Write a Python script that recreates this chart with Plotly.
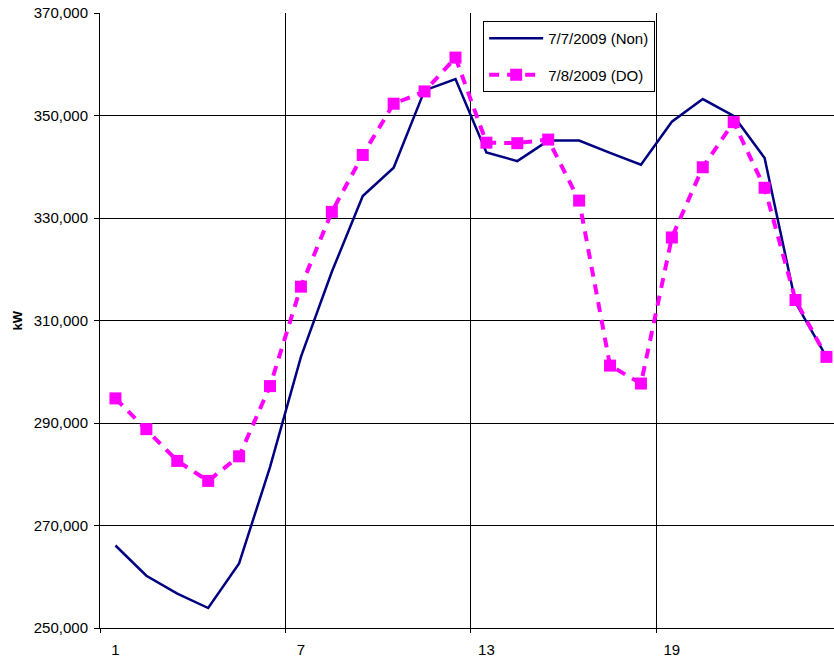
import plotly.graph_objects as go

hours = list(range(1, 25))
non_kw = [266100, 260200, 256700, 253900, 262600, 281400, 302900, 319500, 334300, 339800,
          354900, 357100, 342800, 341100, 345100, 345100, 342700, 340400, 348800, 353200,
          349900, 341700, 313500, 302900]
do_kw = [294800, 288800, 282600, 278700, 283500, 297200, 316600, 331200, 342300, 352300,
         354700, 361300, 344700, 344600, 345300, 333400, 301200, 297700, 326200, 339900,
         348700, 335900, 314000, 302900]
x_labels = [1, 7, 13, 19]
x_bounds = [0.5, 6.5, 12.5, 18.5, 24.5]
y_ticks = [250000, 270000, 290000, 310000, 330000, 350000, 370000]
name_non = "7/7/2009 (Non)"
name_do = "7/8/2009 (DO)"

FONT = "Liberation Sans, Arial, sans-serif"

fig = go.Figure()
fig.add_trace(go.Scatter(
    x=hours, y=non_kw, name=name_non, mode="lines", legendgroup="a",
    line=dict(color="#000080", width=2.5),
))
fig.add_trace(go.Scatter(
    x=hours, y=do_kw, name=name_do, mode="lines+markers", legendgroup="b",
    line=dict(color="#FF00FF", width=4, dash="10px,8px"),
    marker=dict(symbol="square", size=12, color="#FF00FF", line=dict(width=0)),
))

fig.update_layout(
    width=834, height=661,
    margin=dict(l=100, r=0, t=13, b=33),
    paper_bgcolor="white", plot_bgcolor="white",
    font=dict(family=FONT, size=15, color="black"),
    showlegend=True,
    legend=dict(
        x=0.522, y=0.987, xanchor="left", yanchor="top",
        bgcolor="white", bordercolor="black", borderwidth=1,
        font=dict(family=FONT, size=15, color="black"),
        tracegroupgap=14, itemwidth=54,
    ),
    annotations=[dict(
        text="<b>kW</b>", textangle=-90, xref="paper", yref="paper",
        x=-0.113, y=0.5, xanchor="center", yanchor="middle", showarrow=False,
        font=dict(family=FONT, size=13, color="black"),
    )],
)

fig.update_xaxes(
    range=[0.5, 24.245],
    tickmode="array", tickvals=x_labels, ticktext=[str(v) for v in x_labels],
    ticks="", showgrid=False, zeroline=False,
    showline=True, linecolor="black", linewidth=1,
    ticklabelstandoff=8,
    minor=dict(tickmode="array", tickvals=x_bounds, ticks="outside", ticklen=4,
               tickcolor="black", showgrid=True, gridcolor="black", gridwidth=1),
)
fig.update_yaxes(
    range=[250000, 370000],
    tickmode="array", tickvals=y_ticks, tickformat=",",
    ticks="outside", ticklen=5, tickcolor="black",
    showgrid=True, gridcolor="black", gridwidth=1, zeroline=False,
    showline=True, linecolor="black", linewidth=1,
    ticklabelstandoff=3,
)

fig.write_html("out.html")
